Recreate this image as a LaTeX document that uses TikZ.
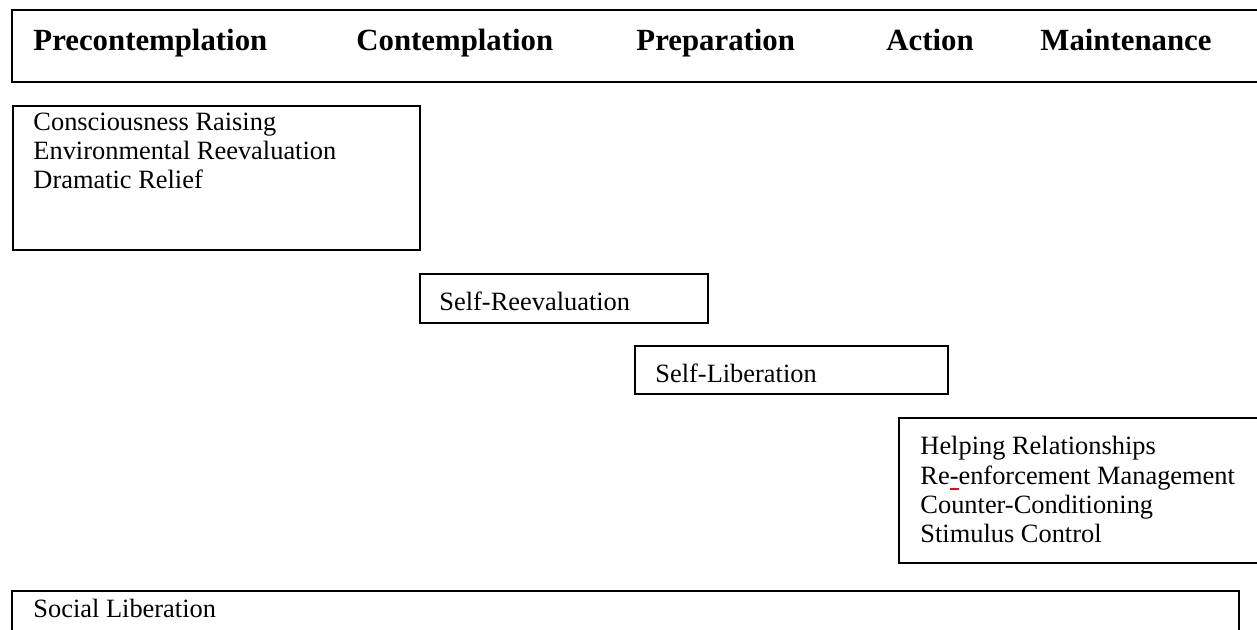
\documentclass[tikz,border=0pt]{standalone}
\usepackage{fontspec}
\setmainfont{Liberation Serif}
\newcommand{\redmark}{\makebox[0pt][l]{\color{red}\rule[-2.4pt]{4pt}{0.9pt}}}
\begin{document}
\begin{tikzpicture}[x=0.4545pt,y=-0.4545pt,
  box/.style={draw=black, line width=0.9pt, rectangle, inner sep=0pt, anchor=north west},
  hdr/.style={anchor=base west, inner sep=0pt, font=\fontsize{14pt}{16pt}\selectfont\bfseries},
  txt/.style={anchor=base west, inner sep=0pt, font=\fontsize{12pt}{13pt}\selectfont}]
\useasboundingbox (0,0) rectangle (1257,630);
\clip (0,0) rectangle (1257,630);
% boxes
\node[box, minimum width=1270*0.4545pt, minimum height=72*0.4545pt] (stages) at (11,9) {};
\node[box, minimum width=407*0.4545pt, minimum height=144*0.4545pt] (early) at (12,105) {};
\node[box, minimum width=288*0.4545pt, minimum height=49*0.4545pt] (sr) at (419,273) {};
\node[box, minimum width=313*0.4545pt, minimum height=48*0.4545pt] (sl) at (634,345) {};
\node[box, minimum width=400*0.4545pt, minimum height=145*0.4545pt] (late) at (898,417) {};
\node[box, minimum width=1227*0.4545pt, minimum height=80*0.4545pt] (social) at (11,590) {};
% header
\node[hdr] (h1) at (33,51) {Precontemplation};
\node[hdr] (h2) at (356,51) {Contemplation};
\node[hdr] (h3) at (636,51) {Preparation};
\node[hdr] (h4) at (886,51) {Action};
\node[hdr] (h5) at (1040,51) {Maintenance};
% texts
\node[txt] (t1) at (33,131) {\begin{tabular}[t]{@{}l@{}}Consciousness Raising\\Environmental Reevaluation\\Dramatic Relief\end{tabular}};
\node[txt] (t2) at (439,311) {Self-Reevaluation};
\node[txt] (t3) at (655,383) {Self-Liberation};
\node[txt, font=\fontsize{12pt}{13.3pt}\selectfont] (t4) at (920,455) {\begin{tabular}[t]{@{}l@{}}Helping Relationships\\Re\redmark-enforcement Management\\Counter-Conditioning\\Stimulus Control\end{tabular}};
\node[txt] (t5) at (33,618) {Social Liberation};
\end{tikzpicture}
\end{document}
